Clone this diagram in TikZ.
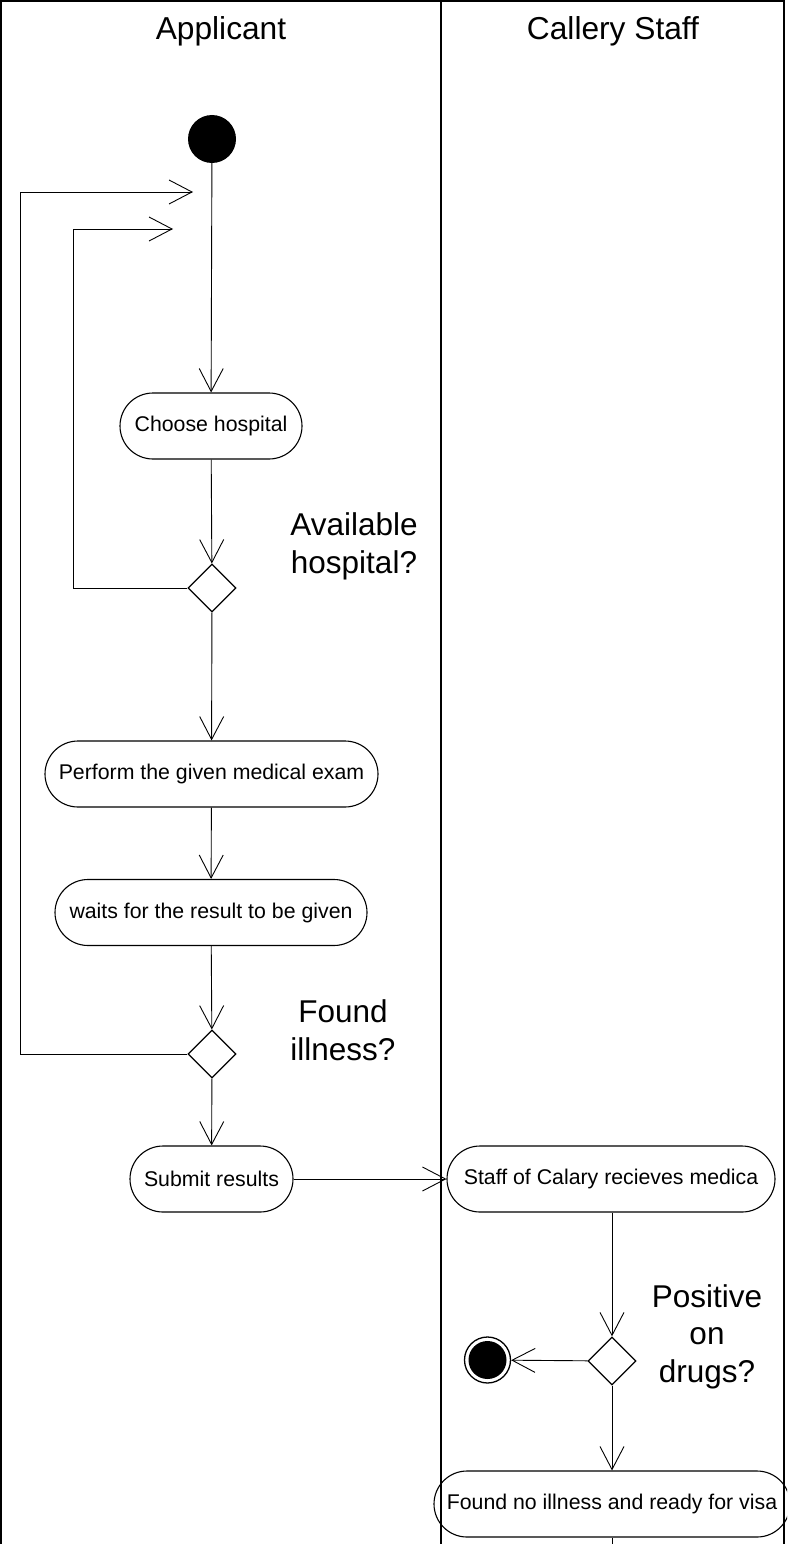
\documentclass[tikz,border=0pt]{standalone}
\usepackage{fontspec}
\setmainfont{Liberation Sans}
\usetikzlibrary{arrows.meta,shapes.geometric}
\begin{document}
\begin{tikzpicture}[x=1pt,y=-1pt,
  lane/.style={line width=1.8pt},
  flow/.style={line width=0.9pt,-{Straight Barb[length=23pt,width=24pt]}},
  plain/.style={line width=0.9pt},
  action/.style={draw,line width=1.1pt,rectangle,rounded corners=33pt,minimum height=66pt,inner sep=0pt,
    font=\fontsize{21.3}{25}\selectfont},
  decision/.style={draw,line width=1.3pt,diamond,minimum width=48pt,minimum height=48pt,inner sep=0pt},
  guard/.style={align=center,font=\fontsize{31.5}{37.5}\selectfont},
  header/.style={font=\fontsize{31.7}{36}\selectfont}]
\clip (0,0) rectangle (787,1544);
\fill[white] (0,0) rectangle (787,1544);

% swimlane frame
\draw[lane] (1,1600) -- (1,1) -- (784,1) -- (784,1600);
\draw[lane] (441,1) -- (441,1600);
\node[header,anchor=base] (hApp) at (221,40) {Applicant};
\node[header,anchor=base] (hStaff) at (613,40) {Callery Staff};

% nodes
\node[circle,fill=black,minimum size=48pt,inner sep=0pt] (start) at (212,139) {};
\node[action,minimum width=182pt] (choose) at (211,426) {Choose hospital};
\node[decision] (d1) at (212,588) {};
\node[guard,anchor=base] (g1) at (354,573) {Available\\hospital?};
\node[action,minimum width=333pt] (perform) at (211.5,774) {Perform the given medical exam};
\node[action,minimum width=312pt] (waits) at (211,912.5) {waits for the result to be given};
\node[decision] (d2) at (212,1054) {};
\node[guard,anchor=base] (g2) at (343,1060) {Found\\illness?};
\node[action,minimum width=163pt] (submit) at (211.5,1179) {Submit results};
\node[action,minimum width=328pt] (staff) at (611,1179) {Staff of Calary recieves medica};
\node[decision] (d3) at (612,1361) {};
\node[guard,anchor=base] (g3) at (707,1382) {Positive\\on\\drugs?};
\node[circle,draw,line width=1.3pt,minimum size=46pt,inner sep=0pt] (end) at (487.5,1360) {};
\fill (end.center) circle (19pt);
\node[action,minimum width=356pt] (found) at (612,1504) {Found no illness and ready for visa};

% free ends of loops and outgoing flow
\coordinate (c1) at (73,229);
\coordinate (t1) at (173,229);
\coordinate (c2) at (20,192);
\coordinate (t2) at (193,192);
\coordinate (bot) at (612,1560);

% connectors
\draw[flow] (start) -- (choose);
\draw[flow] (choose) -- (d1);
\draw[flow] (d1) -- (perform);
\draw[flow] (perform) -- (waits);
\draw[flow] (waits) -- (d2);
\draw[flow] (d2) -- (submit);
\draw[flow] (submit) -- (staff);
\draw[flow] (staff.south -| d3.north) -- (d3.north);
\draw[flow] (d3) -- (end);
\draw[flow] (d3) -- (found);
\draw[plain] (found.south) -- (bot);
\draw[flow] (d1.west) -| (c1) -- (t1);
\draw[flow] (d2.west) -| (c2) -- (t2);
\end{tikzpicture}
\end{document}
